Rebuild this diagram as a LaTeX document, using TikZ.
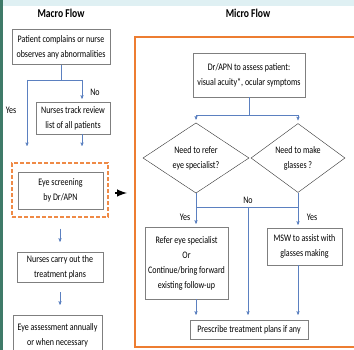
\documentclass[tikz,border=0pt]{standalone}
\usepackage{fontspec}
\setmainfont[FakeStretch=0.8]{Carlito}
\usetikzlibrary{shapes,arrows,positioning}

\definecolor{flowblue}{HTML}{5B80C0}
\definecolor{boxgray}{HTML}{7F7F7F}
\definecolor{slideorange}{HTML}{ED7D31}
\definecolor{slidegreen}{HTML}{3F7A68}
\definecolor{bannercyan}{HTML}{DFF0F3}

\begin{document}
\begin{tikzpicture}[x=1pt,y=-1pt,>=stealth',semithick]
\tikzstyle{every node}=[font=\fontsize{10}{15}\selectfont,text=black]
\tikzstyle{box}=[draw=boxgray,thin,fill=white,align=center,inner sep=0pt]
\tikzstyle{choice}=[diamond,draw=black!80,thin,fill=white,align=center,inner sep=0pt]
\tikzstyle{title}=[font=\fontsize{12}{14}\selectfont\bfseries]
\tikzstyle{link}=[->,draw=flowblue,thin]
\tikzstyle{wire}=[draw=flowblue,thin]

\path[use as bounding box,clip] (0,0) rectangle (354,350);
\fill[bannercyan] (0,0) rectangle (354,6);
\fill[slidegreen] (0,0) rectangle (3,350);

% macro flow
\node[title] (tmac) at (61,13) {Macro Flow};
\node[box,minimum width=98pt,minimum height=35pt] (m1) at (61,47) {Patient complains or nurse\\observes any abnormalities};
\node[box,minimum width=74pt,minimum height=32pt] (m2) at (73,118) {Nurses track review\\list of all patients};
\node[draw=slideorange!90,line width=1.5pt,dash pattern=on 4pt off 2pt,minimum width=96pt,minimum height=54pt] (scr) at (60,190) {};
\node[box,minimum width=85pt,minimum height=37pt] (m3) at (60.5,190.5) {Eye screening\\by Dr/APN};
\node[box,minimum width=86pt,minimum height=30pt] (m4) at (60,267) {Nurses carry out the\\treatment plans};
\node[box,minimum width=89pt,minimum height=40pt] (m5) at (57.5,335) {Eye assessment annually\\or when necessary};

\coordinate (jl) at (27,80);
\coordinate (jr) at (82,80);
\coordinate (el) at (27,146);
\coordinate (er) at (82,146);
\draw[wire] (m1.south) -- (m1.south |- jl);
\draw[wire] (jl) -- (jr);
\draw[link,shorten >=3pt] (jr) -- (jr |- m2.north);
\draw[link] (jl) -- (el);
\draw[link] (er |- m2.south) -- (er);
\draw[link,shorten <=11pt,shorten >=10pt] (scr.south) -- (scr.south |- m4.north);
\draw[link,shorten <=10pt,shorten >=10pt] (m4.south) -- (m4.south |- m5.north);
\node (tno) at (95,92) {No};
\node (tyes) at (11,110) {Yes};

% pointer to the micro flow
\coordinate (ptra) at (115,193);
\coordinate (ptrb) at (127,193);
\draw[line width=2.4pt,-latex] (ptra) -- (ptrb);

% micro flow
\node[draw=slideorange,line width=1.6pt,minimum width=235pt,minimum height=310pt] (micro) at (252.5,192) {};
\node[title] (tmic) at (248,13) {Micro Flow};
\node[box,minimum width=112pt,minimum height=44pt] (a1) at (249,75) {Dr/APN to assess patient:\\visual acuity*, ocular symptoms};
\node[choice,minimum width=106pt,minimum height=67pt] (d1) at (196,158) {Need to refer\\eye specialist?};
\node[choice,minimum width=94pt,minimum height=67pt] (d2) at (298,158) {Need to make\\glasses ?};
\node[box,minimum width=83pt,minimum height=72pt] (r1) at (186.5,263) {Refer eye specialist\\Or\\Continue/bring forward\\existing follow-up};
\node[box,minimum width=75pt,minimum height=37pt] (r2) at (304.5,246.5) {MSW to assist with\\glasses making};
\node[box,minimum width=118pt,minimum height=19pt] (p) at (249,329.5) {Prescribe treatment plans if any};

\coordinate (dl) at (196,115);
\coordinate (dr) at (298,115);
\coordinate (ql) at (196,207);
\coordinate (qm) at (248,207);
\coordinate (qr) at (298,207);
\draw[wire] (a1.south) -- (a1.south |- dl);
\draw[wire] (dl) -- (dr);
\draw[link,shorten >=3pt] (dl) -- (d1.north);
\draw[link,shorten >=3pt] (dr) -- (d2.north);
\draw[wire] (d1.south) -- (ql);
\draw[wire] (d2.south) -- (qr);
\draw[wire] (ql) -- (qr);
\draw[link,shorten >=3pt] (ql) -- (ql |- r1.north);
\draw[link,shorten >=3pt] (qr) -- (qr |- r2.north);
\draw[link,shorten >=5pt] (qm) -- (qm |- p.north);
\draw[link,shorten >=5pt] (ql |- r1.south) -- (ql |- p.north);
\draw[link,shorten >=5pt] (qr |- r2.south) -- (qr |- p.north);
\node (tno2) at (248,200) {No};
\node (tyes2) at (185,217) {Yes};
\node (tyes3) at (312,217) {Yes};
\end{tikzpicture}
\end{document}
